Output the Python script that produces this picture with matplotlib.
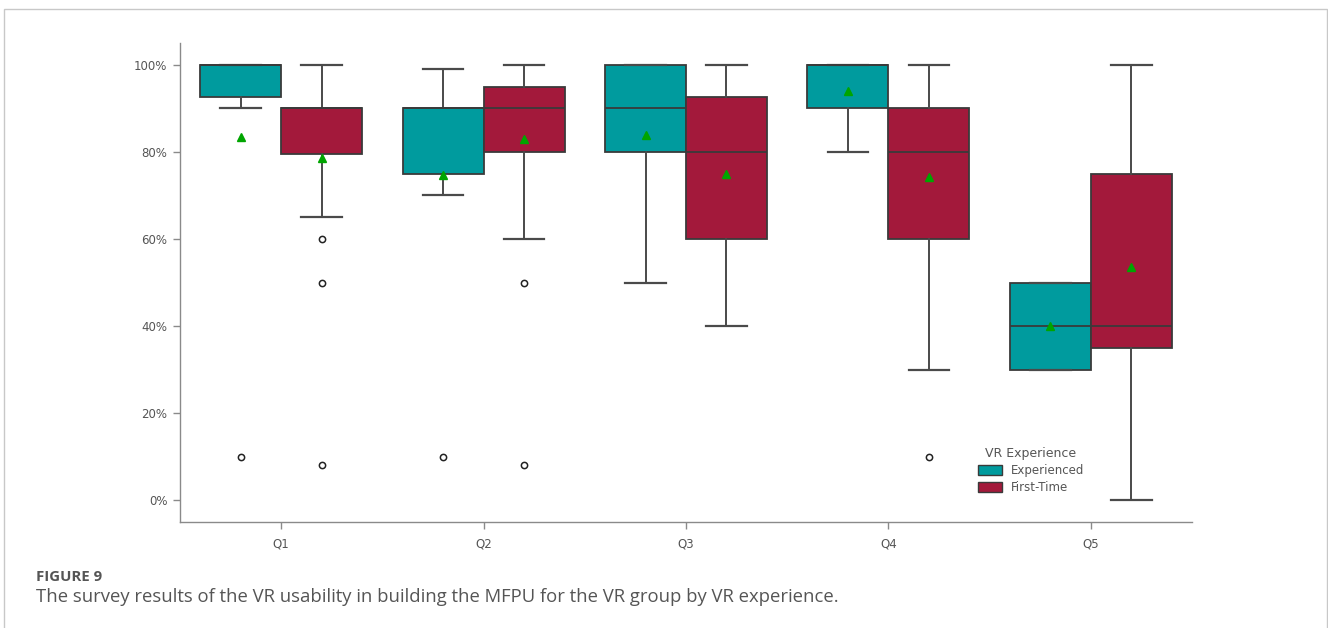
import matplotlib
matplotlib.use("Agg")
import matplotlib.pyplot as plt
from matplotlib.patches import Patch, Rectangle
from matplotlib.ticker import FuncFormatter

# Survey questions and groups
questions = ["Q1", "Q2", "Q3", "Q4", "Q5"]
groups = ["Experienced", "First-Time"]

# Five-number summaries (percent) per question, Experienced group
exp_whislo = [90, 70, 50, 80, 30]
exp_q1 = [92.5, 75, 80, 90, 30]
exp_med = [100, 90, 90, 100, 40]
exp_q3 = [100, 90, 100, 100, 50]
exp_whishi = [100, 99, 100, 100, 50]
exp_mean = [83.3, 74.7, 83.8, 93.9, 40.0]
exp_fliers = [[10], [10], [], [], []]

# Five-number summaries (percent) per question, First-Time group
ft_whislo = [65, 60, 40, 30, 0]
ft_q1 = [79.4, 80, 60, 60, 35]
ft_med = [90, 90, 80, 80, 40]
ft_q3 = [90, 95, 92.5, 90, 75]
ft_whishi = [100, 100, 100, 100, 100]
ft_mean = [78.7, 82.9, 74.9, 74.2, 53.6]
ft_fliers = [[60, 50, 8], [50, 8], [], [10], []]

colors = {"Experienced": "#009B9E", "First-Time": "#A3193B"}

summaries = {
    "Experienced": (exp_whislo, exp_q1, exp_med, exp_q3, exp_whishi, exp_mean, exp_fliers),
    "First-Time": (ft_whislo, ft_q1, ft_med, ft_q3, ft_whishi, ft_mean, ft_fliers),
}

fig = plt.figure(figsize=(13.28, 6.28), dpi=100)
ax = fig.add_axes([180 / 1328, 1 - 522 / 628, (1192 - 180) / 1328, (522 - 43) / 628])

box_w = 0.4
offsets = {"Experienced": -0.2, "First-Time": 0.2}
edge = "#3a3a3a"
line_c = "#4a4a4a"

for g in groups:
    lo, q1, med, q3, hi, mean, fl = summaries[g]
    stats = []
    for i in range(len(questions)):
        stats.append(dict(whislo=lo[i], q1=q1[i], med=med[i], q3=q3[i],
                          whishi=hi[i], mean=mean[i], fliers=fl[i], label=questions[i]))
    pos = [i + offsets[g] for i in range(len(questions))]
    ax.bxp(stats, positions=pos, widths=box_w, capwidths=0.2, patch_artist=True,
           showmeans=True, showfliers=True, manage_ticks=False,
           boxprops=dict(facecolor=colors[g], edgecolor=edge, linewidth=1.3),
           medianprops=dict(color=edge, linewidth=1.3),
           whiskerprops=dict(color=line_c, linewidth=1.4),
           capprops=dict(color=line_c, linewidth=1.6),
           meanprops=dict(marker="^", markerfacecolor="#00A500", markeredgecolor="#00A500",
                          markersize=6),
           flierprops=dict(marker="o", markerfacecolor="white", markeredgecolor="#222222",
                           markersize=4.5, markeredgewidth=1.1))

ax.set_xlim(-0.5, 4.5)
ax.set_ylim(-5, 105)
ax.set_xticks(range(len(questions)))
ax.set_xticklabels(questions)
ax.set_yticks([0, 20, 40, 60, 80, 100])
ax.yaxis.set_major_formatter(FuncFormatter(lambda v, p: f"{v:.0f}%"))

for s in ["top", "right"]:
    ax.spines[s].set_visible(False)
for s in ["left", "bottom"]:
    ax.spines[s].set_color("#8a8a8a")
    ax.spines[s].set_linewidth(1.0)
ax.tick_params(axis="both", colors="#8a8a8a", length=5, width=1.0,
               labelcolor="#555555", labelsize=8.5)
ax.tick_params(axis="x", pad=6)
ax.tick_params(axis="y", pad=4)

handles = [Patch(facecolor=colors[g], edgecolor=edge, linewidth=1.0, label=g) for g in groups]
leg = ax.legend(handles=handles, title="VR Experience", frameon=False,
                loc="upper left", bbox_to_anchor=(967 / 1328, 1 - 436 / 628),
                bbox_transform=fig.transFigure, fontsize=8.5, title_fontsize=9,
                handlelength=2.1, handleheight=0.9, handletextpad=0.7, labelspacing=0.35)
for t in leg.get_texts():
    t.set_color("#555555")
leg.get_title().set_color("#555555")

# Page frame around the figure panel
fig.patches.append(Rectangle((4 / 1328, -0.1), (1327 - 4) / 1328, 1.1 - 9 / 628,
                             transform=fig.transFigure, fill=False,
                             edgecolor="#c8c8c8", linewidth=1.0))

fig.text(36 / 1328, 1 - 577 / 628, "FIGURE 9", family="Open Sans", fontweight="bold",
         fontsize=10.8, color="#555555", va="center", ha="left")
fig.text(36 / 1328, 1 - 597 / 628,
         "The survey results of the VR usability in building the MFPU for the VR group by VR experience.",
         family="Open Sans", fontsize=13.3, color="#555555", va="center", ha="left")

fig.savefig("out.png", dpi=100)
